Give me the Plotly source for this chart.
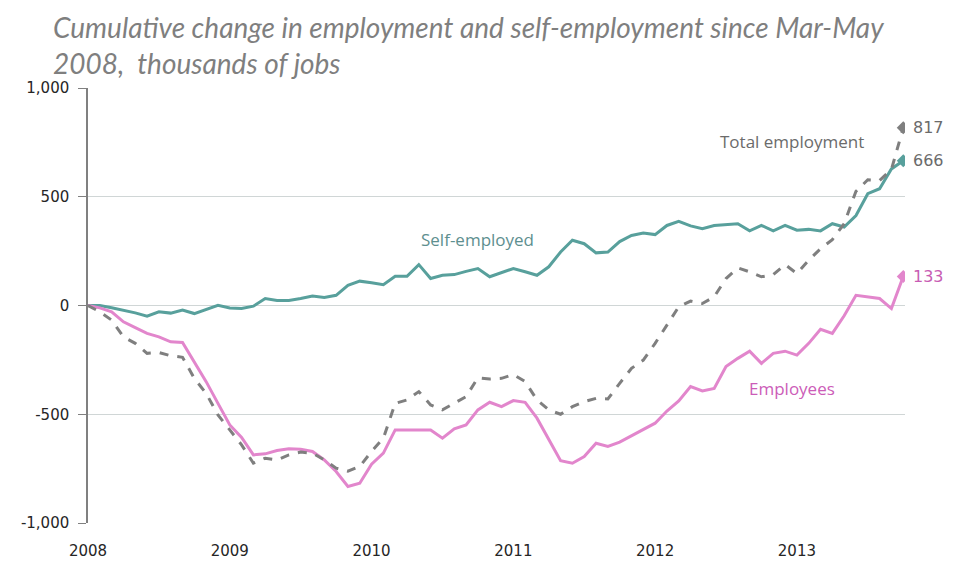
import plotly.graph_objects as go

# Monthly rolling-quarter index from Mar-May 2008 (index 0)
year_labels = ["2008", "2009", "2010", "2011", "2012", "2013"]
year_positions = [0, 12, 24, 36, 48, 60]

self_employed = [0, 0, -10, -21, -34, -49, -29, -35, -21, -37, -17, 1, -11, -14, -3, 32,
                 23, 23, 32, 44, 37, 47, 93, 112, 105, 96, 134, 134, 188, 124, 139, 142,
                 157, 170, 132, 150, 170, 155, 139, 178, 246, 300, 284, 242, 246, 294, 322,
                 333, 326, 368, 387, 366, 353, 368, 372, 376, 343, 368, 343, 368, 346, 350,
                 343, 376, 361, 414, 514, 537, 628, 666]

total_employment = [0, -29, -67, -144, -174, -220, -216, -231, -238, -335, -404, -503, -572,
                    -641, -725, -702, -710, -687, -674, -679, -710, -748, -762, -740, -671,
                    -610, -450, -434, -396, -457, -480, -450, -419, -332, -338, -335, -317,
                    -350, -434, -480, -500, -465, -442, -427, -430, -358, -289, -251, -174,
                    -90, -6, 20, 9, 40, 124, 173, 155, 132, 142, 188, 147, 208, 261, 303, 376,
                    525, 578, 575, 625, 817]

employees = [0, -11, -29, -75, -102, -128, -144, -167, -170, -258, -350, -450, -549, -607,
             -687, -682, -667, -659, -661, -671, -710, -763, -832, -817, -730, -679, -572,
             -572, -572, -572, -610, -567, -549, -480, -445, -465, -437, -445, -518, -618,
             -714, -725, -694, -633, -648, -628, -598, -572, -541, -485, -439, -373, -393,
             -381, -281, -243, -210, -266, -220, -210, -228, -174, -109, -128, -47, 47, 40,
             32, -14, 133]

x = list(range(len(self_employed)))
last = x[-1]

TEAL = "#58a09c"
GRAY = "#7f7f7f"
PINK = "#e286cc"
FONT = "Open Sans"
TICKFONT = "DejaVu Sans"

fig = go.Figure()

fig.add_trace(go.Scatter(x=x, y=self_employed, mode="lines", line=dict(color=TEAL, width=3),
                         name="Self-employed", hoverinfo="skip"))
fig.add_trace(go.Scatter(x=x, y=employees, mode="lines", line=dict(color=PINK, width=3),
                         name="Employees", hoverinfo="skip"))
fig.add_trace(go.Scatter(x=x, y=total_employment, mode="lines",
                         line=dict(color=GRAY, width=3, dash="dash"),
                         name="Total employment", hoverinfo="skip"))

# end-point diamonds
for series, col in [(self_employed, TEAL), (employees, PINK), (total_employment, GRAY)]:
    fig.add_trace(go.Scatter(x=[last], y=[series[-1]], mode="markers",
                             marker=dict(symbol="diamond", size=10, color=col),
                             hoverinfo="skip"))

# end labels
for series, col in [(total_employment, "#6b6b6b"), (self_employed, "#6b6b6b"), (employees, "#c85cb4")]:
    fig.add_annotation(x=last, y=series[-1], text=f"{series[-1]}", showarrow=False,
                       xanchor="left", xshift=8, font=dict(family=TICKFONT, size=16, color=col))

# series labels
fig.add_annotation(x=59.6, y=752, text="Total employment", showarrow=False,
                   font=dict(family=FONT, size=17, color="#6b6b6b"))
fig.add_annotation(x=33, y=305, text="Self-employed", showarrow=False,
                   font=dict(family=FONT, size=17, color="#5e8f8f"))
fig.add_annotation(x=59.6, y=-381, text="Employees", showarrow=False,
                   font=dict(family=FONT, size=17, color="#cc5cb8"))

# title
fig.add_annotation(xref="paper", yref="paper", x=-0.045, y=1.185, xanchor="left", yanchor="top",
                   align="left", showarrow=False,
                   text="Cumulative change in employment and self-employment since Mar-May<br>2008,  thousands of jobs",
                   font=dict(family="Lato", size=28, color="#7f7f7f", style="italic"))

xrange = [0, last + 0.15]

# page body adds an 8px offset, so the figure is a little smaller than the window
fig.update_layout(
    width=953, height=553,
    margin=dict(l=80, r=56, t=80, b=38),
    plot_bgcolor="white", paper_bgcolor="white",
    showlegend=False,
    xaxis=dict(range=xrange, tickvals=year_positions, ticktext=year_labels,
               showgrid=False, zeroline=False, showline=False, ticks="",
               automargin=False, ticklabelstandoff=17,
               tickfont=dict(family=TICKFONT, size=15, color="#262626")),
    xaxis2=dict(range=xrange, overlaying="x", anchor="free", position=0.5,
                tickvals=year_positions[1:], showticklabels=False, ticks="outside",
                ticklen=6, tickcolor="#808080", showline=True, linecolor="#808080",
                linewidth=1.5, showgrid=False, zeroline=False, automargin=False),
    yaxis=dict(range=[-1000, 1000], tickvals=[-1000, -500, 0, 500, 1000],
               ticktext=["-1,000", "-500", "0", "500", "1,000"],
               showgrid=True, gridcolor="#d0d6d6", gridwidth=1, zeroline=False,
               showline=True, linecolor="#808080", linewidth=1.5, ticks="outside",
               ticklen=8, tickcolor="#808080", automargin=False, ticklabelstandoff=6,
               tickfont=dict(family=TICKFONT, size=15, color="#262626")),
)

fig.write_html("out.html")
